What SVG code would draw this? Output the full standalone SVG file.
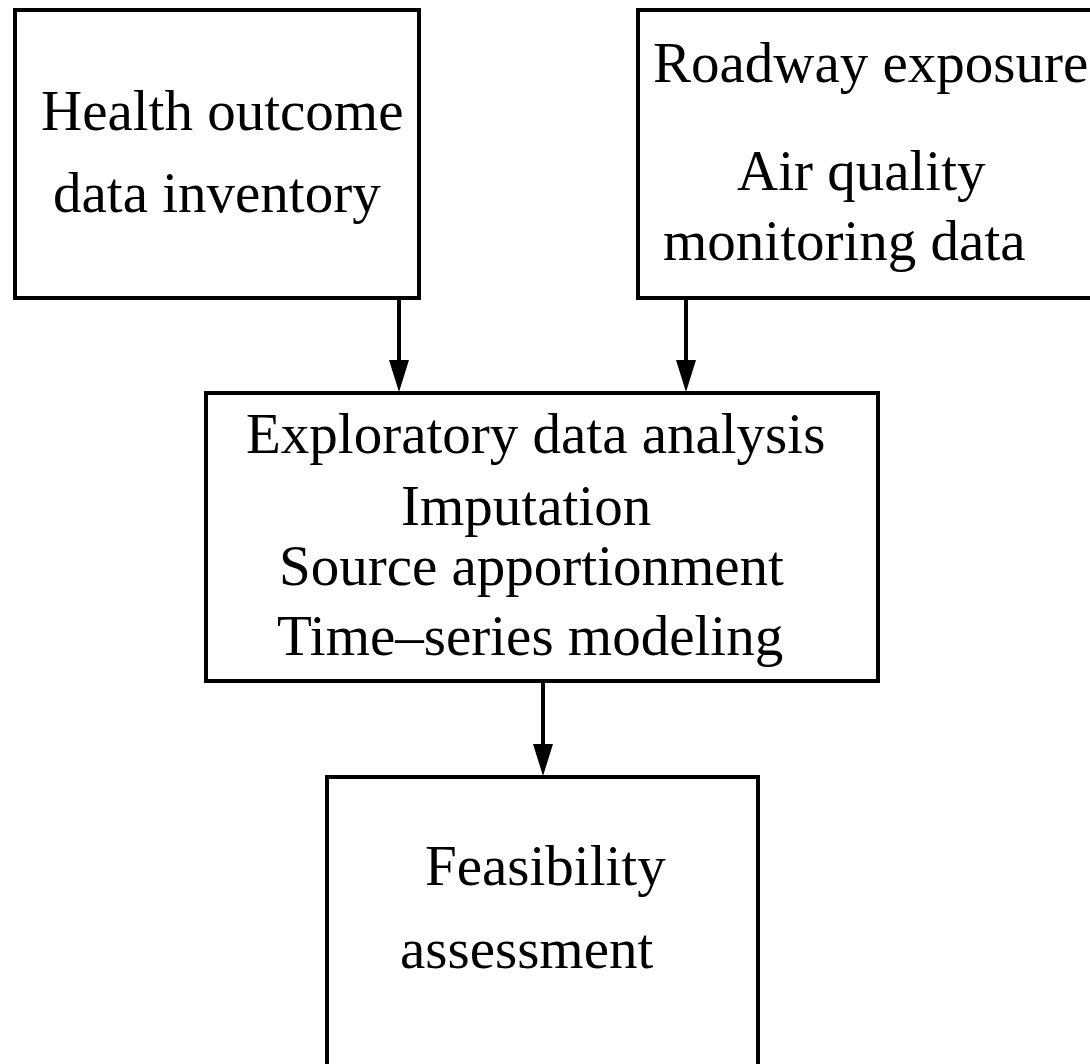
<svg xmlns="http://www.w3.org/2000/svg" width="1090" height="1064" viewBox="0 0 1090 1064">
<style>
.box{fill:#fff;stroke:#000;stroke-width:4}
.t{font-family:"Liberation Serif","Times New Roman",serif;font-size:57px;fill:#000}
.edge{stroke:#000;stroke-width:4;fill:none}
.head{fill:#000}
</style>
<rect width="1090" height="1064" fill="#fff"/>
<g id="n1">
<rect class="box" x="15" y="10" width="404" height="288"/>
<text class="t" x="41" y="130">Health outcome</text>
<text class="t" x="53" y="212">data inventory</text>
</g>
<g id="n2">
<rect class="box" x="638" y="10" width="460" height="288"/>
<text class="t" x="653" y="82">Roadway exposure</text>
<text class="t" x="737" y="190">Air quality</text>
<text class="t" x="663" y="260">monitoring data</text>
</g>
<g id="n3">
<rect class="box" x="206" y="393" width="672" height="288"/>
<text class="t" x="246" y="453">Exploratory data analysis</text>
<text class="t" x="401" y="525">Imputation</text>
<text class="t" x="279" y="585">Source apportionment</text>
<text class="t" x="277" y="655">Time–series modeling</text>
</g>
<g id="n4">
<rect class="box" x="327" y="777" width="431" height="300"/>
<text class="t" x="425" y="885">Feasibility</text>
<text class="t" x="400" y="968">assessment</text>
</g>
<g id="connectors">
<line class="edge" x1="399" y1="298" x2="399" y2="362"/>
<polygon class="head" points="389,360 409,360 399,392"/>
<line class="edge" x1="686" y1="298" x2="686" y2="362"/>
<polygon class="head" points="676,360 696,360 686,392"/>
<line class="edge" x1="543" y1="681" x2="543" y2="746"/>
<polygon class="head" points="533,744 553,744 543,776"/>
</g>
</svg>
